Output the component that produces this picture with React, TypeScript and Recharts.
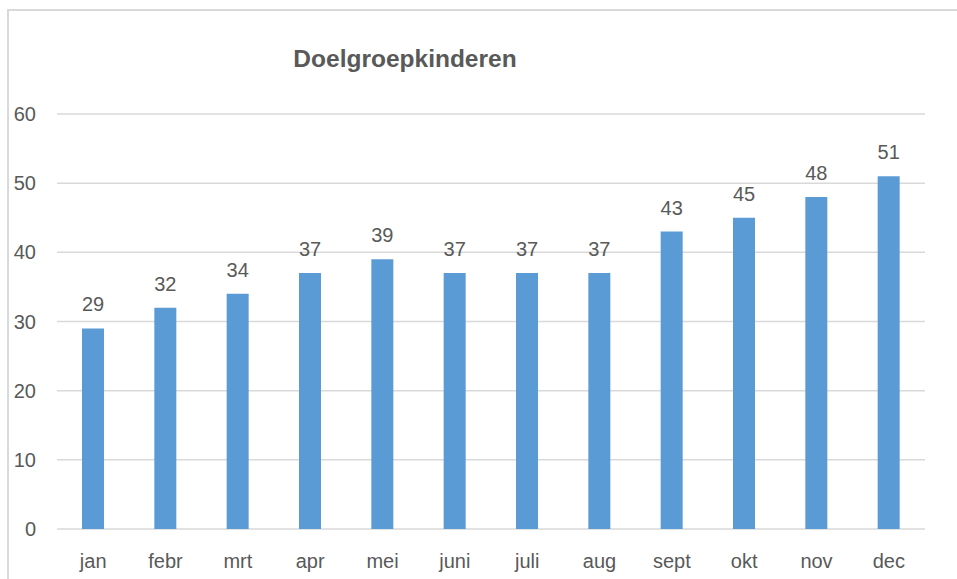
import { BarChart, Bar, XAxis, YAxis, CartesianGrid, LabelList } from "recharts";

const months = ["jan", "febr", "mrt", "apr", "mei", "juni", "juli", "aug", "sept", "okt", "nov", "dec"];
const kinderen = [29, 32, 34, 37, 39, 37, 37, 37, 43, 45, 48, 51];
const yTicks = [0, 10, 20, 30, 40, 50, 60];

const data = months.map((month, i) => ({ month, kinderen: kinderen[i] }));

const font = "'Liberation Sans', Arial, sans-serif";
const textColor = "#595959";

export default function App() {
    return (
        <div
            style={{
                position: "absolute",
                left: 0,
                top: 0,
                width: 957,
                height: 579,
                overflow: "hidden",
                background: "#fff",
                fontFamily: font,
            }}
        >
            <div
                style={{
                    position: "absolute",
                    left: 7,
                    top: 9,
                    width: 980,
                    height: 600,
                    border: "2px solid #d9d9d9",
                    boxSizing: "border-box",
                }}
            />
            <div
                style={{
                    position: "absolute",
                    left: 255,
                    top: 45,
                    width: 300,
                    textAlign: "center",
                    fontSize: 24.5,
                    fontWeight: "bold",
                    color: textColor,
                    lineHeight: "28px",
                }}
            >
                Doelgroepkinderen
            </div>
            <div style={{ position: "absolute", left: 0, top: 0 }}>
                <BarChart
                    width={957}
                    height={579}
                    data={data}
                    margin={{ top: 114, right: 32, bottom: 10, left: 0 }}
                >
                    <CartesianGrid vertical={false} stroke="#d9d9d9" strokeWidth={1.5} />
                    <XAxis
                        dataKey="month"
                        height={40}
                        axisLine={false}
                        tickLine={false}
                        tickSize={0}
                        tickMargin={25}
                        tick={{ fill: textColor, fontSize: 20, fontFamily: font }}
                    />
                    <YAxis
                        width={57}
                        domain={[0, 60]}
                        ticks={yTicks}
                        axisLine={false}
                        tickLine={false}
                        tickSize={0}
                        tickMargin={21}
                        tick={{ fill: textColor, fontSize: 20, fontFamily: font }}
                    />
                    <Bar dataKey="kinderen" fill="#5b9bd5" barSize={22} isAnimationActive={false}>
                        <LabelList
                            dataKey="kinderen"
                            position="top"
                            offset={17}
                            fill={textColor}
                            fontSize={20}
                            fontFamily={font}
                        />
                    </Bar>
                </BarChart>
            </div>
        </div>
    );
}
